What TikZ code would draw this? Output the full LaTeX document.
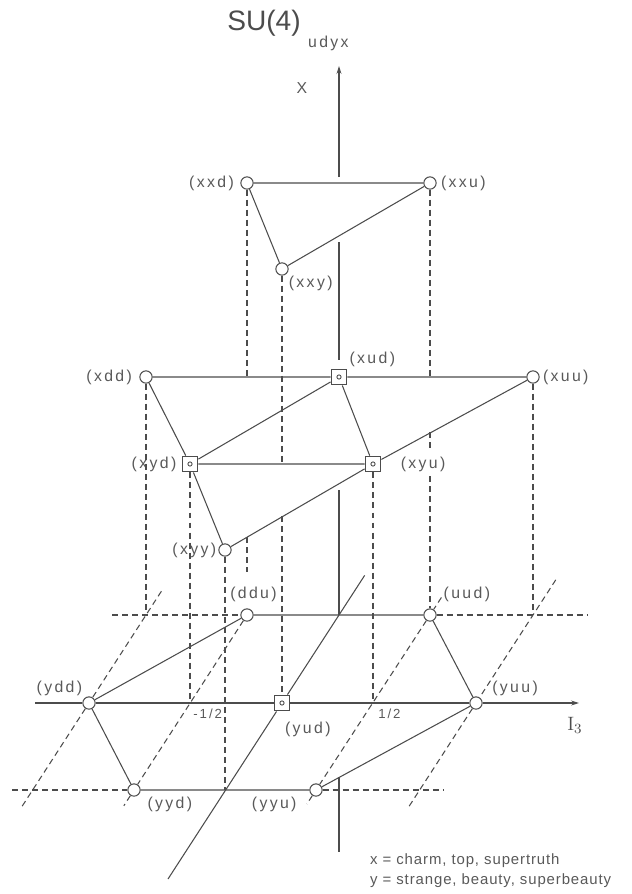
\documentclass[tikz,border=0pt]{standalone}
\usepackage{fontspec}
\newfontfamily\lblfont{Liberation Sans}[LetterSpace=15]
\newfontfamily\keyfont{Liberation Sans}[LetterSpace=6]
\newfontfamily\ttlfont{Liberation Sans}
\usetikzlibrary{arrows.meta,calc,positioning}

\begin{document}
\begin{tikzpicture}[
  x=0.02cm, y=-0.02cm,
  font=\lblfont\fontsize{9}{11}\selectfont,
  line/.style={draw=black!70, line width=0.6pt},
  proj/.style={draw=black!70, line width=0.6pt, dash pattern=on 3.4pt off 2.3pt},
  axis/.style={draw=black!70, line width=0.6pt},
  tip/.style={-{Stealth[length=4.5pt,width=2.8pt]}},
  state/.style={circle, draw=black!70, fill=white, line width=0.6pt, minimum size=7pt, inner sep=0pt},
  pair/.style={rectangle, draw=black!70, fill=white, line width=0.6pt, minimum size=9pt, inner sep=0pt,
    path picture={\draw[black!70, line width=0.5pt] (path picture bounding box.center) circle (1.2pt);}},
  lbl/.style={text=black!65, inner sep=1pt},
  ticklbl/.style={text=black!65, inner sep=1pt, font=\lblfont\fontsize{7.5}{9}\selectfont}
]
\useasboundingbox (0,0) rectangle (632,894);

\node[font=\ttlfont\fontsize{16}{18}\selectfont, text=black!70] (title) at (264,23) {SU(4)};
\node[lbl, anchor=west] (sub) at (306,43) {udyx};

% Top layer: two x quarks.
\node[state] (xxd) at (247,183) {};
\node[state] (xxu) at (430,183) {};
\node[state] (xxy) at (282,269) {};

% Middle layer: one x quark.
\node[state] (xdd) at (146,377) {};
\node[pair]  (xud) at (339,377) {};
\node[state] (xuu) at (533,377) {};
\node[pair]  (xyd) at (190,464) {};
\node[pair]  (xyu) at (373,464) {};
\node[state] (xyy) at (225,550) {};

% Bottom layer.
\node[state] (ddu) at (247,615) {};
\node[state] (uud) at (430,615) {};
\node[state] (ydd) at (89,703) {};
\node[pair]  (yud) at (282,703) {};
\node[state] (yuu) at (476,703) {};
\node[state] (yyd) at (134,790) {};
\node[state] (yyu) at (316,790) {};

\coordinate (O) at (339,615);
\coordinate (bdd) at (146,615);
\coordinate (buu) at (533,615);
\coordinate (tm) at (190,703);
\coordinate (tp) at (373,703);
\coordinate (fy) at (225,790);

% State labels.
\node[lbl, left=2.5pt of xxd] {(xxd)};
\node[lbl, right=1.3pt of xxu] {(xxu)};
\node[lbl, below right=0pt of xxy] {(xxy)};
\node[lbl, above right=0pt of xud] {(xud)};
\node[lbl, left=3pt of xdd] {(xdd)};
\node[lbl, right=0.7pt of xuu] {(xuu)};
\node[lbl, left=1.8pt of xyd] {(xyd)};
\node[lbl, right=9.8pt of xyu] {(xyu)};
\node[lbl, left=0pt of xyy] {(xyy)};
\node[lbl, above=2.4pt of ddu, xshift=3.7pt] {(ddu)};
\node[lbl, above=2.4pt of uud, xshift=21pt] {(uud)};
\node[lbl, above left=0pt of ydd] {(ydd)};
\node[lbl, above right=0pt and 5.4pt of yuu] {(yuu)};
\node[lbl, below=4.7pt of yud, xshift=14.7pt] {(yud)};
\node[lbl, below right=0pt and 3.8pt of yyd] {(yyd)};
\node[lbl, below left=0pt and 7.2pt of yyu] {(yyu)};

% Axes, broken where they pass behind a layer.
\coordinate (axtop) at (339,66);
\coordinate (ax1) at (339,177);
\coordinate (ax2) at (339,242);
\coordinate (ax3) at (339,360);
\coordinate (ax4) at (339,490);
\coordinate (ax5) at (339,777);
\coordinate (ax6) at (339,852);
\draw[axis, tip] (ax1) -- (axtop);
\draw[axis] (ax2) -- (ax3);
\draw[axis] (ax4) -- (O);
\draw[axis] (ax5) -- (ax6);
\node[lbl] (xlab) at (302,88) {X};

\coordinate (i3start) at (35,703);
\coordinate (i3end) at (579,703);
\draw[axis, tip] (i3start) -- (ydd) -- (yud) -- (yuu) -- (i3end);
\node[text=black!70, font=\rmfamily\fontsize{11}{13}\selectfont] (i3lab) at (575,725) {I$_3$};
\node[ticklbl, below right=2.4pt and 0.7pt of tm] {-1/2};
\node[ticklbl, below right=2.4pt and 1.8pt of tp] {1/2};

\draw[axis] ($(yud)!-2!(O)$) -- (yud) -- ($(yud)!1.45!(O)$);

% Weight diagrams.
\draw[line] (xxd) -- (xxu) (xxd) -- (xxy) -- (xxu);
\draw[line] (xdd) -- (xud) -- (xuu) (xdd) -- (xyd) -- (xyy) -- (xyu) -- (xuu);
\draw[line] (xyd) -- (xyu) (xyd) -- (xud) -- (xyu);
\draw[line] (ddu) -- (uud) -- (yuu) -- (yyu) -- (yyd) -- (ydd) -- (ddu);

% Projection lines.
\coordinate (xxdA) at (247,537);
\coordinate (xxdB) at (247,572);
\coordinate (xxyA) at (282,516);
\coordinate (xxuA) at (430,432);
\coordinate (xxuB) at (430,452);
\coordinate (xxuC) at (430,476);
\draw[proj] (xxd) -- (xxd |- xdd) (xxdA) -- (xxdB);
\draw[proj] (xxy) -- (xxy |- xyd) (xxyA) -- (yud);
\draw[proj] (xxu) -- (xxu |- xdd) (xxuA) -- (xxuB) (xxuC) -- (uud);
\draw[proj] (xdd) -- (bdd);
\draw[proj] (xyd) -- (tm);
\draw[proj] (xyy) -- (fy);
\draw[proj] (xyu) -- (tp);
\draw[proj] (xuu) -- (buu);

\coordinate (rowbL) at (112,615);
\coordinate (rowbR) at (588,615);
\coordinate (rowfL) at (12,790);
\coordinate (rowfR) at (443,790);
\draw[proj] (rowbL) -- (ddu) (uud) -- (rowbR);
\draw[proj] (rowfL) -- (yyd) (yyu) -- (rowfR);
\draw[proj] ($(bdd)!-0.27!(ydd)$) -- (ydd) -- ($(bdd)!2.2!(ydd)$);
\draw[proj] (ddu) -- (yyd) -- ($(ddu)!1.09!(yyd)$);
\draw[proj] ($(uud)!-0.1!(yyu)$) -- (uud) -- (yyu) -- ($(uud)!1.08!(yyu)$);
\draw[proj] ($(buu)!-0.4!(yuu)$) -- (yuu) -- ($(buu)!2.2!(yuu)$);

\node[lbl, anchor=north west, align=left, font=\keyfont\fontsize{8.5}{11.3}\selectfont] (key) at (368,852)
  {x = charm, top, supertruth\\y = strange, beauty, superbeauty};

\end{tikzpicture}
\end{document}
